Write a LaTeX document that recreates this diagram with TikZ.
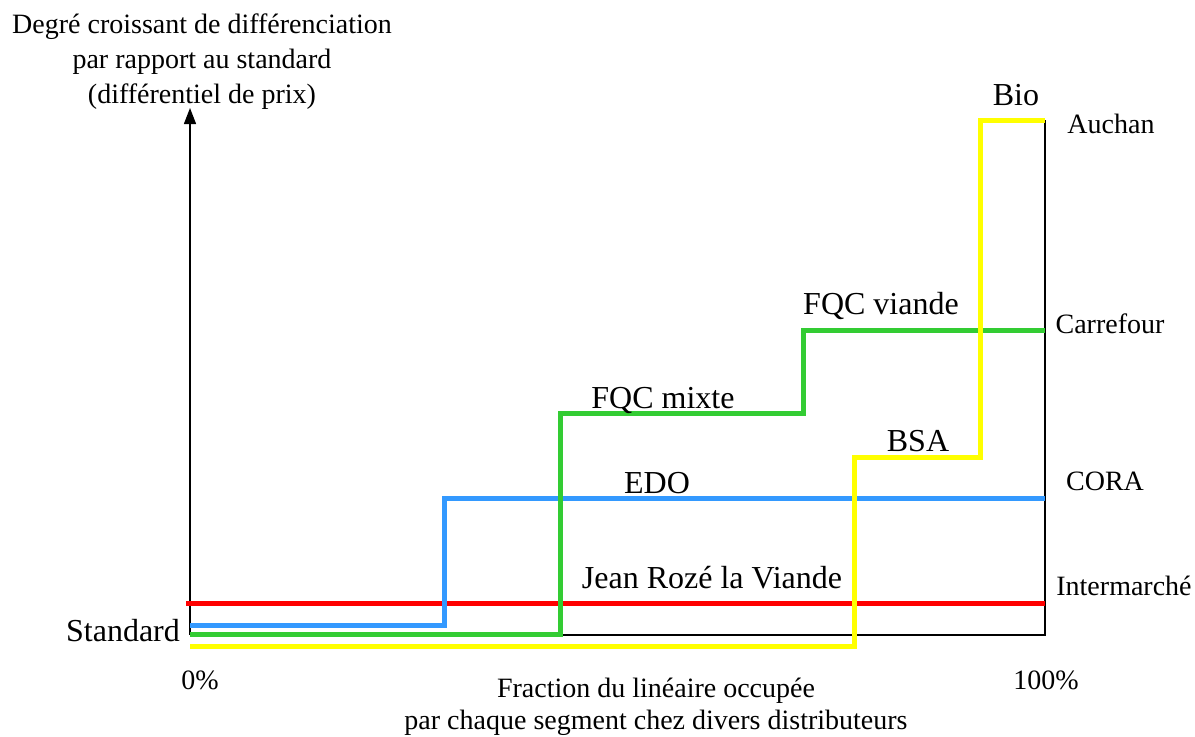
\documentclass[tikz,border=0pt]{standalone}
\usepackage{fontspec}
\setmainfont{Liberation Serif}
\usetikzlibrary{arrows.meta}

\definecolor{redline}{RGB}{255,0,0}
\definecolor{blueline}{RGB}{51,153,255}
\definecolor{greenline}{RGB}{51,204,51}
\definecolor{yellowline}{RGB}{255,255,0}

\tikzset{
  small/.style={font=\fontsize{14}{17.5}\selectfont, inner sep=0pt, anchor=base},
  big/.style={font=\fontsize{16}{19}\selectfont, inner sep=0pt, anchor=base},
  segment/.style={line width=2.5pt, line join=miter},
  frame/.style={line width=0.7pt}
}

\begin{document}
\begin{tikzpicture}[x=0.5pt,y=-0.5pt]
            \useasboundingbox (0,0) rectangle (1195,736);

            \coordinate (origin) at (190,635);
            \coordinate (top) at (190,108);
            \coordinate (corner) at (1045,635);
            \coordinate (end) at (1045,120);

            % axes and frame
            \draw[frame,-{Triangle[length=8pt,width=6pt]}] (origin) -- (top);
            \draw[frame] (origin) -- (corner) -- (end);

            % segments
            \draw[segment,redline] (186,603) -- (1045,603);
            \draw[segment,blueline] (190,625) -- (444,625) -- (444,498) -- (1045,498);
            \draw[segment,greenline] (190,634) -- (560,634) -- (560,413) -- (803,413) -- (803,330) -- (1045,330);
            \draw[segment,yellowline] (190,646) -- (854,646) -- (854,457) -- (980,457) -- (980,120) -- (1045,120);

            \node[small] (ytitle1) at (202,33) {Degré croissant de différenciation};
            \node[small] (ytitle2) at (202,68) {par rapport au standard};
            \node[small] (ytitle3) at (202,103) {(différentiel de prix)};

            \node[big] (bio) at (1016,105) {Bio};
            \node[big] (fqcv) at (881,314) {FQC viande};
            \node[big] (fqcm) at (663,408) {FQC mixte};
            \node[big] (bsa) at (918,451) {BSA};
            \node[big] (edo) at (657,493) {EDO};
            \node[big] (jrv) at (712,588) {Jean Rozé la Viande};
            \node[big] (std) at (123,641) {Standard};

            \node[small] (auchan) at (1111,133) {Auchan};
            \node[small] (carrefour) at (1110,333) {Carrefour};
            \node[small] (cora) at (1105,490) {CORA};
            \node[small] (inter) at (1124,595) {Intermarché};

            \node[small] (zero) at (200,689) {0\%};
            \node[small] (hundred) at (1046,689) {100\%};
            \node[small] (xtitle1) at (656,697) {Fraction du linéaire occupée};
            \node[small] (xtitle2) at (656,729) {par chaque segment chez divers distributeurs};
        \end{tikzpicture}
\end{document}
